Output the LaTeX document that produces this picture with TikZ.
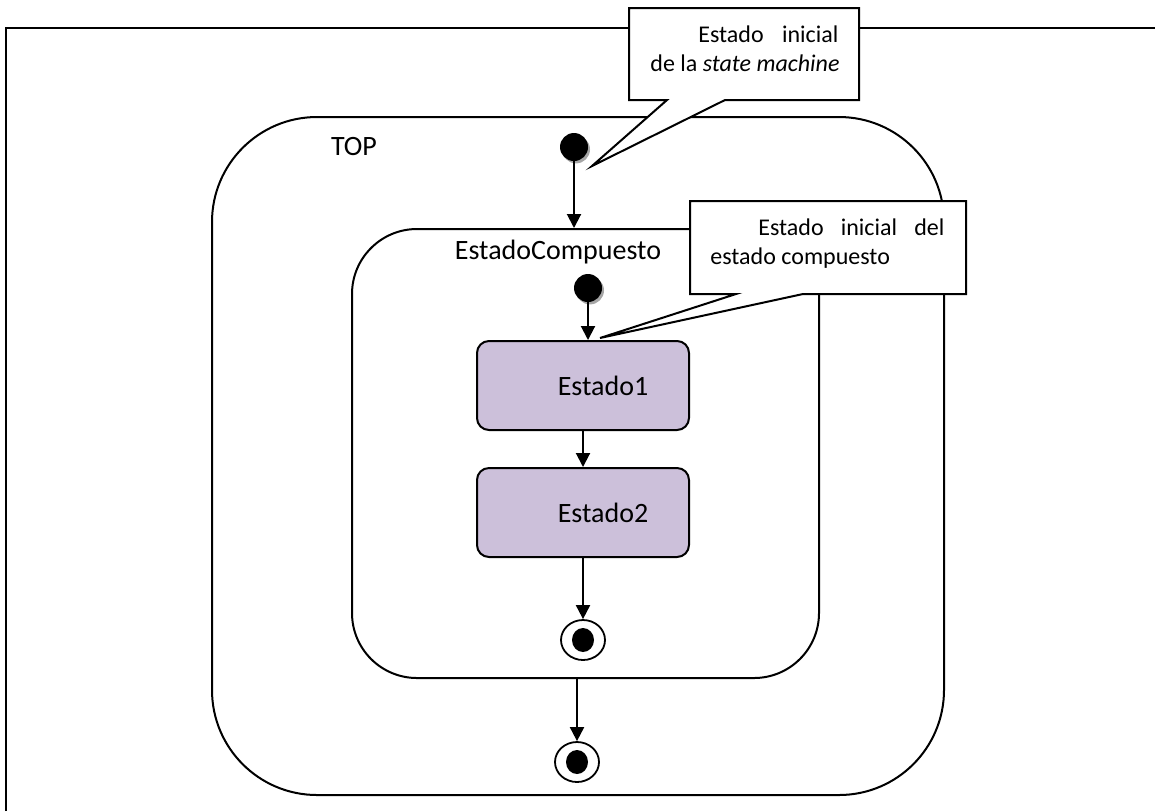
\documentclass[tikz,border=0pt]{standalone}
\usepackage{fontspec}
\setmainfont{Carlito}
\usetikzlibrary{arrows.meta,shapes.geometric,shadows}
\definecolor{lila}{RGB}{204,192,218}

\begin{document}
\begin{tikzpicture}[
    x=0.5pt, y=-0.5pt,
    region/.style={draw, line width=1pt, rectangle, inner sep=0pt},
    titulo/.style={font=\fontsize{14}{17}\selectfont, anchor=base},
    estado/.style={draw, line width=1pt, fill=lila, rounded corners=6pt,
      minimum width=106pt, minimum height=44.5pt, font=\fontsize{14}{17}\selectfont},
    inicial/.style={circle, fill=black, minimum size=14pt, inner sep=0pt,
      drop shadow={shadow xshift=1pt, shadow yshift=-1.2pt, fill=gray!70, opacity=1}},
    final/.style={ellipse, draw, line width=0.9pt, fill=white, minimum width=22pt,
      minimum height=20pt, inner sep=0pt,
      path picture={\fill[black] (path picture bounding box.center) ellipse (5.5pt and 6pt);}},
    flecha/.style={-{Triangle[length=7pt,width=7pt]}, line width=1pt},
    nota/.style={fill=white, draw, line width=1pt},
    notatxt/.style={font=\fontsize{12}{14.5}\selectfont, anchor=north west, inner sep=0pt, align=left},
  ]
    %% --- lienzo (coordenadas en pixeles, y hacia abajo) ---
    \useasboundingbox (0,0) rectangle (1155,811);

    %% --- marco exterior (cortado a la derecha y abajo) ---
    \draw[line width=1.2pt] (6,811) -- (6,28) -- (1155,28);

    %% --- estado TOP ---
    \node[region, rounded corners=52.5pt, minimum width=366pt, minimum height=339pt]
      (top) at (578,456) {};
    \node[titulo] (toplbl) at (354,155) {TOP};

    %% --- estado compuesto ---
    \node[region, rounded corners=32.5pt, minimum width=233.5pt, minimum height=224.5pt]
      (comp) at (585.5,453.5) {};
    \node[titulo] (complbl) at (558,259) {EstadoCompuesto};

    %% --- pseudoestados y estados simples ---
    \node[inicial] (ini1) at (574,147) {};
    \node[inicial] (ini2) at (588,288) {};
    \node[estado] (est1) at (583,385.5) {\hspace*{20pt}Estado1};
    \node[estado] (est2) at (583,512.5) {\hspace*{20pt}Estado2};
    \node[final] (fin1) at (583,640) {};
    \node[final] (fin2) at (577,762) {};

    %% --- transiciones ---
    \draw[flecha] (ini1) -- (ini1 |- comp.north);
    \draw[flecha] (ini2) -- (ini2 |- est1.north);
    \draw[flecha] (est1.south) -- (est2.north);
    \draw[flecha] (est2.south) -- (fin1.north);
    \draw[flecha] (fin2 |- comp.south) -- (fin2.north);

    %% --- notas (bocadillos) ---
    \draw[nota] (629,8) -- (859,8) -- (859,100) -- (725,100) -- (592,166)
      -- (667,100) -- (629,100) -- cycle;
    \node[notatxt] (nota1) at (650,25)
      {\hspace*{24pt}\makebox[70pt][s]{Estado\hfill inicial}\\de la \textit{state machine}};

    \draw[nota] (690,201) -- (966,201) -- (966,294) -- (803,294) -- (600,338)
      -- (736,294) -- (690,294) -- cycle;
    \node[notatxt] (nota2) at (710,218)
      {\hspace*{24pt}\makebox[93pt][s]{Estado\hfill inicial\hfill del}\\estado compuesto};

  \end{tikzpicture}
\end{document}
